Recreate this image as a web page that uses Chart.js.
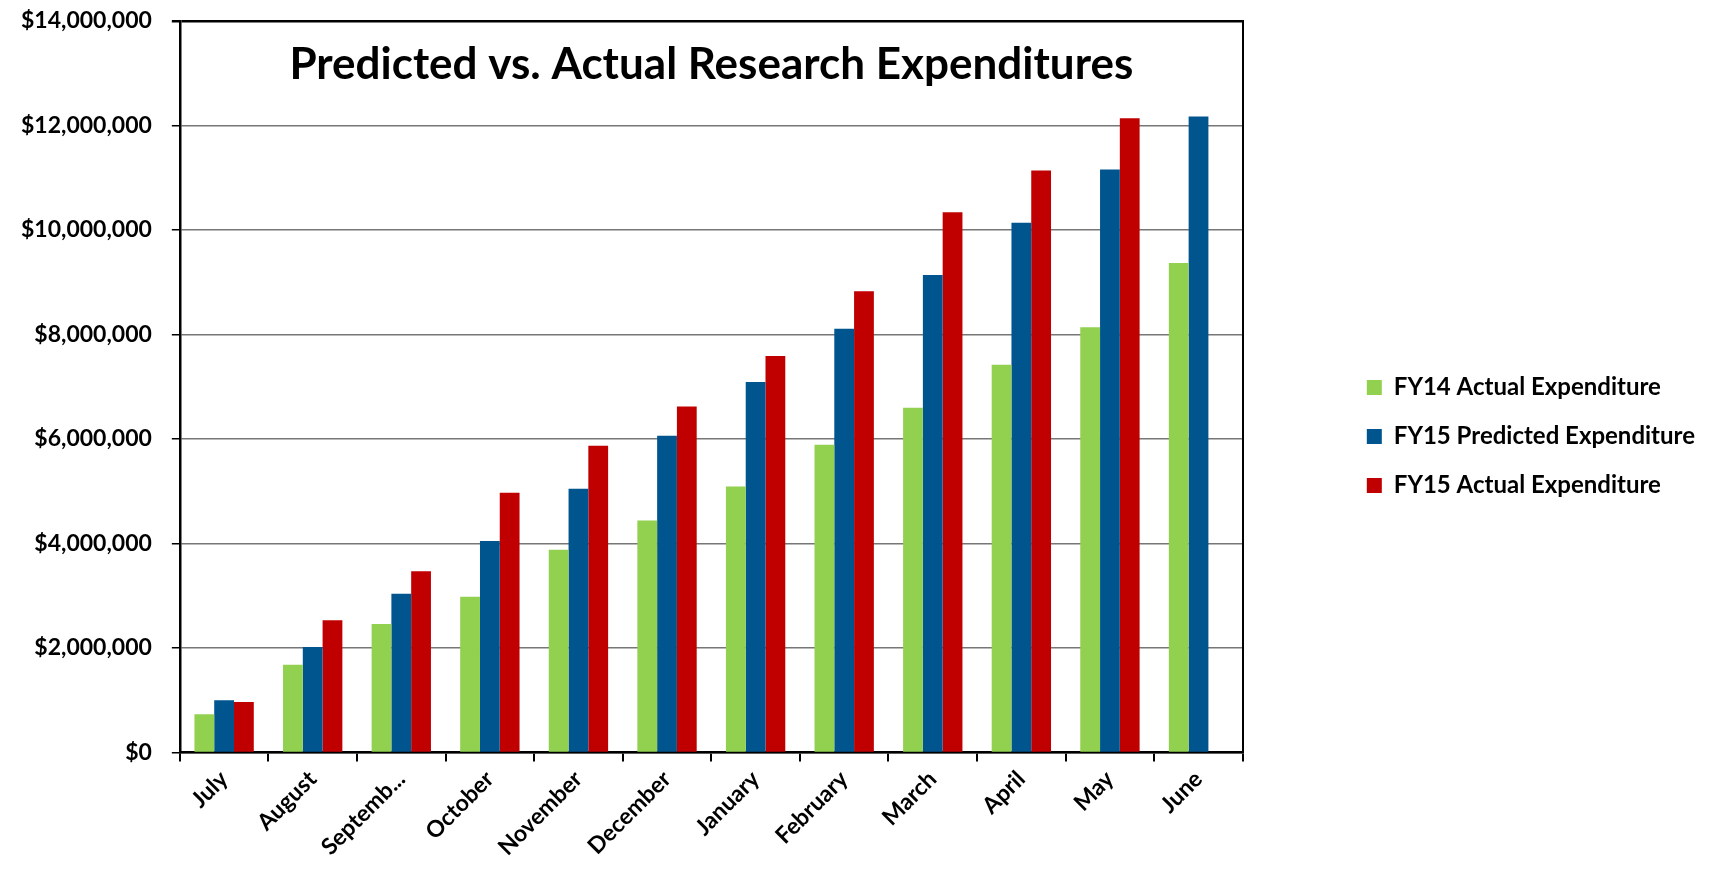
<!DOCTYPE html>
<html>
<head>
<meta charset="utf-8">
<script src="https://cdn.jsdelivr.net/npm/chart.js@4/dist/chart.umd.min.js"></script>
<style>
    html, body { margin: 0; padding: 0; background: #ffffff; }
    #wrap { width: 1725px; height: 873px; }
</style>
</head>
<body>
<div id="wrap"><canvas id="expChart" width="1725" height="873"></canvas></div>
<script>
// Month labels (Excel cut "September" short)
const months = ['July', 'August', 'Septemb...', 'October', 'November', 'December',
    'January', 'February', 'March', 'April', 'May', 'June'];

// Cumulative expenditures, in dollars
const fy14Actual = [730000, 1680000, 2460000, 2980000, 3880000, 4440000,
    5090000, 5890000, 6600000, 7420000, 8140000, 9370000];
const fy15Predicted = [1000000, 2020000, 3040000, 4050000, 5050000, 6060000,
    7090000, 8110000, 9140000, 10140000, 11160000, 12170000];
const fy15Actual = [966000, 2530000, 3470000, 4970000, 5870000, 6620000,
    7590000, 8830000, 10340000, 11140000, 12140000, null];

const chartTitle = 'Predicted vs. Actual Research Expenditures';

const fontFamily = 'Lato, "Open Sans", sans-serif';

// Draws the title inside the plot area, like the Excel original
const insideTitle = {
    id: 'insideTitle',
    afterDraw(chart) {
        const { ctx, chartArea } = chart;
        ctx.save();
        ctx.font = 'bold 44px ' + fontFamily;
        ctx.fillStyle = '#000000';
        ctx.textAlign = 'center';
        ctx.textBaseline = 'middle';
        ctx.fillText(chartTitle, (chartArea.left + chartArea.right) / 2, chartArea.top + 44);
        ctx.restore();
    }
};

function buildChart() {
    const ctx = document.getElementById('expChart').getContext('2d');
    return new Chart(ctx, {
        type: 'bar',
        data: {
            labels: months,
            datasets: [
                { label: 'FY14 Actual Expenditure', data: fy14Actual, backgroundColor: '#92D050' },
                { label: 'FY15 Predicted Expenditure', data: fy15Predicted, backgroundColor: '#00558F' },
                { label: 'FY15 Actual Expenditure', data: fy15Actual, backgroundColor: '#C00000' }
            ]
        },
        options: {
            responsive: false,
            devicePixelRatio: 1,
            animation: false,
            categoryPercentage: 0.67,
            barPercentage: 1.0,
            layout: {
                padding: { left: 1, top: 0, right: 20, bottom: 8 }
            },
            plugins: {
                title: { display: false },
                tooltip: { enabled: false },
                legend: {
                    position: 'right',
                    maxWidth: 500,
                    // empty title only pushes the entries a bit lower
                    title: { display: true, text: '', font: { size: 5 }, padding: 1 },
                    labels: {
                        boxWidth: 15,
                        boxHeight: 15,
                        padding: 25,
                        color: '#000000',
                        font: { family: fontFamily, size: 24, weight: 'bold' }
                    }
                }
            },
            scales: {
                x: {
                    grid: {
                        display: true,
                        drawOnChartArea: false,
                        color: '#000000',
                        lineWidth: 2,
                        tickLength: 9
                    },
                    border: { color: '#000000', width: 2.5 },
                    ticks: {
                        color: '#000000',
                        autoSkip: false,
                        maxRotation: 45,
                        minRotation: 45,
                        padding: 4,
                        font: { family: fontFamily, size: 23, weight: 'bold' }
                    }
                },
                y: {
                    min: 0,
                    max: 14000000,
                    ticks: {
                        stepSize: 2000000,
                        color: '#000000',
                        padding: 20,
                        font: { family: fontFamily, size: 23, weight: 'bold' },
                        callback: value => '$' + value.toLocaleString('en-US')
                    },
                    grid: {
                        color: c => (c.tick && c.tick.value === 14000000) ? '#000000' : '#777777',
                        lineWidth: c => (c.tick && c.tick.value === 14000000) ? 2.5 : 1.5,
                        tickColor: '#000000',
                        tickLength: 8
                    },
                    border: { color: '#000000', width: 2.5 },
                    // plot top sits closer to the canvas edge than the tick padding allows
                    afterFit: scale => { scale.paddingTop = 21; }
                },
                // right frame line plus the gap before the legend
                yRight: {
                    position: 'right',
                    min: 0,
                    max: 14000000,
                    grid: { drawOnChartArea: false, drawTicks: false },
                    ticks: { display: false },
                    border: { color: '#000000', width: 2 },
                    afterFit: scale => { scale.width = 99; }
                }
            }
        },
        plugins: [insideTitle]
    });
}

// make sure the bold face is ready before Chart.js measures text
Promise.all([
    document.fonts.load('bold 24px Lato'),
    document.fonts.load('bold 44px Lato')
]).then(buildChart, buildChart);
</script>
</body>
</html>
